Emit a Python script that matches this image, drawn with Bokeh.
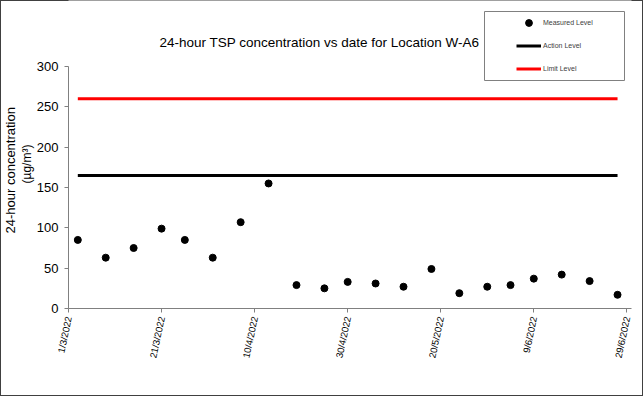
import math
import pandas as pd
from bokeh.plotting import figure
from bokeh.models import (Range1d, FixedTicker, Legend, LegendItem, Label, Title,
                          BoxAnnotation)
from bokeh.embed import file_html
from bokeh.resources import INLINE

# ---- data ----
dates = ["2022-03-03", "2022-03-09", "2022-03-15", "2022-03-21", "2022-03-26",
         "2022-04-01", "2022-04-07", "2022-04-13", "2022-04-19", "2022-04-25",
         "2022-04-30", "2022-05-06", "2022-05-12", "2022-05-18", "2022-05-24",
         "2022-05-30", "2022-06-04", "2022-06-09", "2022-06-15", "2022-06-21",
         "2022-06-27"]
measured = [85, 63, 75, 99, 85, 63, 107, 155, 29, 25, 33,
            31, 27, 49, 19, 27, 29, 37, 42, 34, 17]
action_level = [165] * len(dates)
limit_level = [260] * len(dates)

tick_dates = ["2022-03-01", "2022-03-21", "2022-04-10", "2022-04-30",
              "2022-05-20", "2022-06-09", "2022-06-29"]
tick_labels = ["1/3/2022", "21/3/2022", "10/4/2022", "30/4/2022",
               "20/5/2022", "9/6/2022", "29/6/2022"]
x_start, x_end = "2022-03-01", "2022-06-30"
y_ticks = [0, 50, 100, 150, 200, 250, 300]
y_min, y_max = 0, 300

FONT = "Liberation Sans"

# ---- layout (pixels) ----
W, H = 643, 396
LEFT, RIGHT, BOTTOM = 68, 12, 88
FRAME_H = H - BOTTOM            # frame runs from the top of the canvas
AXIS_H = 242                    # pixel height of the 0..300 axis

x = pd.to_datetime(dates)
epoch = pd.Timestamp("1970-01-01")
def ms(d):
    return float((pd.Timestamp(d) - epoch) / pd.Timedelta(milliseconds=1))

p = figure(width=W, height=H, x_axis_type="datetime",
           output_backend="svg", toolbar_location=None,
           min_border_left=LEFT, min_border_right=RIGHT,
           min_border_top=0, min_border_bottom=BOTTOM)
p.x_range = Range1d(ms(x_start), ms(x_end))
p.y_range = Range1d(y_min, y_max * FRAME_H / AXIS_H)
p.grid.visible = False
p.outline_line_color = None
p.background_fill_color = "white"
p.border_fill_alpha = 0
p.styles = {"box-shadow": "inset 0 0 0 1px #404040", "background-color": "white"}

r_limit = p.line(x, limit_level, line_color="#ff0000", line_width=3)
r_action = p.line(x, action_level, line_color="#000000", line_width=3)
r_meas = p.scatter(x, measured, size=7, fill_color="black", line_color="black")

# axes
xa = p.xaxis[0]
xa.ticker = FixedTicker(ticks=[ms(d) for d in tick_dates])
xa.major_label_overrides = {ms(d): lab for d, lab in zip(tick_dates, tick_labels)}
xa.major_label_orientation = math.radians(78)
xa.major_label_text_font = FONT
xa.major_label_text_font_size = "9.5px"
xa.major_label_text_color = "#000000"
xa.major_label_standoff = 4
xa.minor_tick_line_color = None
xa.major_tick_in = 0
xa.major_tick_out = 4
xa.axis_line_color = "#808080"
xa.major_tick_line_color = "#808080"

ya = p.yaxis[0]
ya.ticker = FixedTicker(ticks=y_ticks)
ya.bounds = (y_min, y_max)
ya.major_label_text_font = FONT
ya.major_label_text_font_size = "13px"
ya.major_label_text_color = "#000000"
ya.major_label_standoff = 6
ya.minor_tick_line_color = None
ya.major_tick_in = 0
ya.major_tick_out = 4
ya.axis_line_color = "#808080"
ya.major_tick_line_color = "#808080"

# y-axis title: two lines as side titles
t2 = Title(text="(µg/m³)", text_font=FONT, text_font_size="12px",
           text_font_style="normal", text_color="#000000",
           align="left", offset=125, standoff=0)
t1 = Title(text="24-hour concentration", text_font=FONT, text_font_size="13px",
           text_font_style="normal", text_color="#000000",
           align="left", offset=75, standoff=0)
p.add_layout(t2, "left")
p.add_layout(t1, "left")

# chart title
title = Label(x=251, y=FRAME_H - 42, x_units="screen", y_units="screen",
              text="24-hour TSP concentration vs date for Location W-A6",
              text_font=FONT, text_font_size="13.5px", text_color="#000000",
              text_align="center", text_baseline="middle")
p.add_layout(title)

# legend box
box = BoxAnnotation(left=416, right=556, bottom=FRAME_H - 80, top=FRAME_H - 11,
                    left_units="screen", right_units="screen",
                    bottom_units="screen", top_units="screen",
                    fill_color="white", fill_alpha=1,
                    line_color="#808080", line_width=1, line_alpha=1)
p.add_layout(box)

legend = Legend(items=[LegendItem(label="Measured Level", renderers=[r_meas]),
                       LegendItem(label="Action Level", renderers=[r_action]),
                       LegendItem(label="Limit Level", renderers=[r_limit])],
                location=(448, FRAME_H - 77))
legend.label_text_font = FONT
legend.label_text_font_size = "7px"
legend.label_text_color = "#404040"
legend.glyph_width = 25
legend.glyph_height = 17
legend.label_height = 17
legend.label_standoff = 2
legend.padding = 0
legend.spacing = 6
legend.margin = 0
legend.border_line_color = None
legend.background_fill_alpha = 0
p.add_layout(legend, "center")

open("out.html", "w").write(file_html(p, INLINE))
